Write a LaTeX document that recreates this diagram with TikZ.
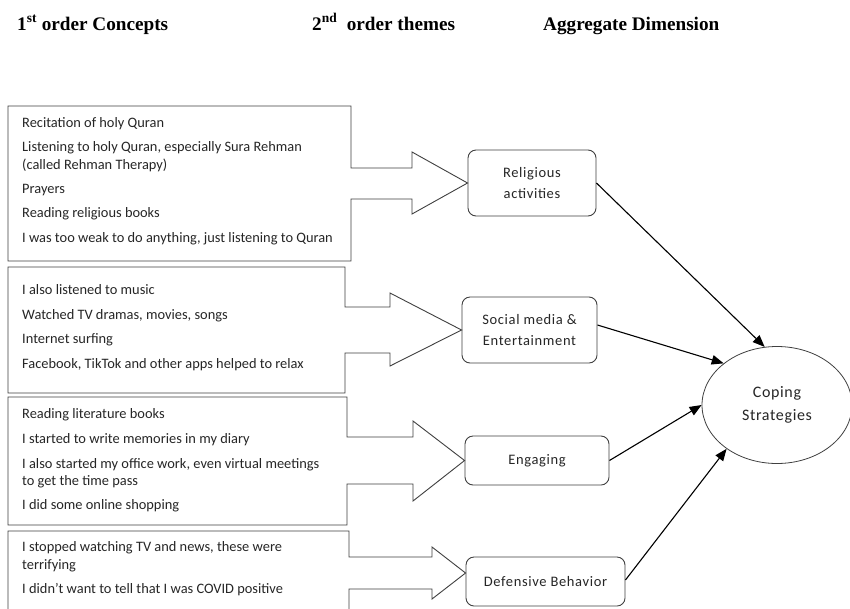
\documentclass[tikz,border=0pt]{standalone}
\usepackage{fontspec}
\setmainfont{Carlito}
\newfontfamily\headfont{Liberation Serif}
\usetikzlibrary{arrows.meta,shapes.geometric,calc}

\tikzset{
  outline/.style={draw=black!75, line width=0.9pt},
  item/.style={anchor=base west, inner sep=0pt, text=black!85,
    font=\fontsize{14.4}{16}\selectfont},
  head/.style={anchor=base west, inner sep=0pt,
    font=\headfont\bfseries\fontsize{19.2}{22}\selectfont},
  theme/.style={draw=black!75, line width=0.9pt, rounded corners=8pt,
    align=center, inner sep=0pt, text=black!85,
    font=\fontsize{14.5}{21}\selectfont\addfontfeature{LetterSpace=4.5}},
  aggregate/.style={ellipse, draw=black!75, line width=0.8pt, inner sep=0pt,
    align=center, text=black!85,
    font=\fontsize{16}{23}\selectfont\addfontfeature{LetterSpace=4}},
  link/.style={draw=black, line width=1.1pt,
    -{Triangle[length=12pt,width=9.5pt]}},
}

\begin{document}
\begin{tikzpicture}[x=1pt,y=-1pt]
\clip (0,0) rectangle (850,608);
\fill[white] (0,0) rectangle (850,608);

% column headings
\node[head] (h1) at (17,30) {1\textsuperscript{st} order Concepts};
\node[head] (h2) at (312,30) {2\textsuperscript{nd}\ \ order themes};
\node[head] (h3) at (543,30) {Aggregate Dimension};

% second order themes
\node[theme, minimum width=128pt, minimum height=66pt] (rel) at (532,183)
  {Religious\\activities};
\node[theme, minimum width=135pt, minimum height=66pt] (soc) at (529.5,330)
  {Social media \&\\Entertainment};
\node[theme, minimum width=144pt, minimum height=49pt] (eng) at (537,460.5)
  {Engaging};
\node[theme, minimum width=159pt, minimum height=49pt] (def) at (545.5,581.5)
  {Defensive Behavior};

% aggregate dimension
\node[aggregate, minimum width=150pt, minimum height=117pt] (cope) at (777,405)
  {Coping\\Strategies};

% first order concept boxes, each merged with its block arrow
\draw[outline] (351,168) -- (351,106) -- (8,106) -- (8,261) -- (351,261)
  -- (351,199) -- (412,199) -- (412,214) -- (rel.west) -- (412,152)
  -- (412,168) -- cycle;
\draw[outline] (345,307) -- (345,267) -- (8,267) -- (8,393) -- (345,393)
  -- (345,353) -- (390,353) -- (390,366) -- (soc.west) -- (390,293)
  -- (390,307) -- cycle;
\draw[outline] (347,437) -- (347,397) -- (8,397) -- (8,525) -- (347,525)
  -- (347,484) -- (413,484) -- (413,501) -- (eng.west) -- (413,421)
  -- (413,437) -- cycle;
\draw[outline] (349,557) -- (349,531) -- (8,531) -- (8,625) -- (349,625)
  -- (349,589) -- (432,589) -- (432,599) -- ([yshift=8.5pt]def.west)
  -- (432,547) -- (432,557) -- cycle;

% concepts: religious activities
\node[item] (r1) at (22,127) {Recitation of holy Quran};
\node[item] (r2) at (22,151) {Listening to holy Quran, especially Sura Rehman};
\node[item] (r3) at (22,169) {(called Rehman Therapy)};
\node[item] (r4) at (22,193) {Prayers};
\node[item] (r5) at (22,217) {Reading religious books};
\node[item] (r6) at (22,242) {I was too weak to do anything, just listening to Quran};

% concepts: social media and entertainment
\node[item] (s1) at (22,294) {I also listened to music};
\node[item] (s2) at (22,319) {Watched TV dramas, movies, songs};
\node[item] (s3) at (22,343) {Internet surfing};
\node[item] (s4) at (22,368) {Facebook, TikTok and other apps helped to relax};

% concepts: engaging
\node[item] (e1) at (22,418) {Reading literature books};
\node[item] (e2) at (22,443) {I started to write memories in my diary};
\node[item] (e3) at (22,468) {I also started my office work, even virtual meetings};
\node[item] (e4) at (22,485) {to get the time pass};
\node[item] (e5) at (22,509) {I did some online shopping};

% concepts: defensive behavior
\node[item] (d1) at (22,551) {I stopped watching TV and news, these were};
\node[item] (d2) at (22,569) {terrifying};
\node[item] (d3) at (22,593) {I didn’t want to tell that I was COVID positive};

% themes feeding the aggregate dimension
\draw[link] (rel.east) -- (cope.102);
\draw[link] ([yshift=5pt]soc.east) -- (cope.142);
\draw[link] (eng.east) -- (cope.180);
\draw[link] ([yshift=1.5pt]def.east) -- (cope.221);
\end{tikzpicture}
\end{document}
